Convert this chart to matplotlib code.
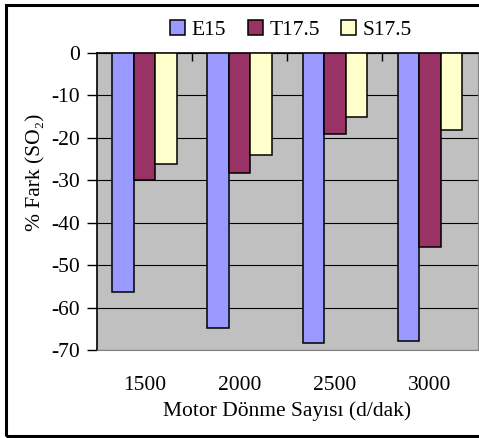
import matplotlib.pyplot as plt
import matplotlib.patches as mpatches
import numpy as np

plt.rcParams['font.family'] = ['Liberation Serif', 'DejaVu Serif']
plt.rcParams['axes.unicode_minus'] = False

hizlar = ['1500', '2000', '2500', '3000']
e15 = [-56.3, -64.7, -68.3, -67.9]
t175 = [-30.0, -28.3, -19.2, -45.8]
s175 = [-26.1, -24.1, -15.0, -18.1]
seriler = ['E15', 'T17.5', 'S17.5']
renkler = ['#9999FF', '#993366', '#FFFFCC']

fig = plt.figure(figsize=(4.79, 4.38), dpi=100)
ax = fig.add_axes([97 / 479, 1 - 350 / 438, 380.5 / 479, 297 / 438])
ax.set_facecolor('#C0C0C0')

x = np.arange(len(hizlar))
w = 0.226
for i, (vals, renk) in enumerate(zip([e15, t175, s175], renkler)):
    ax.bar(x + (i - 1) * w, vals, w, color=renk, edgecolor='black',
           linewidth=1.1, label=seriler[i], zorder=3)

ax.set_xlim(-0.5, 3.5)
ax.set_ylim(-70, 0)
ax.set_yticks(range(-70, 1, 10))
ax.yaxis.grid(True, color='black', linewidth=0.8, zorder=0)
ax.tick_params(axis='y', direction='out', length=7, width=1, labelsize=15.5, pad=5.5)

# x ekseni y=0'da (üstte), kategori sınırlarında iç tik
ax.set_xticks([0.5, 1.5, 2.5])
ax.set_xticklabels([])
ax.tick_params(axis='x', which='major', direction='in', length=6, width=1,
               bottom=False, top=True)
for xi, lab in zip(x, hizlar):
    ax.text(xi, -78.4, lab, ha='center', va='center', fontsize=15.5)
ax.text(1.5, -84.4, 'Motor Dönme Sayısı (d/dak)', ha='center', va='center', fontsize=15.5)

ax.spines['left'].set_color('black')
ax.spines['left'].set_linewidth(1.2)
ax.spines['top'].set_color('black')
ax.spines['top'].set_linewidth(1.2)
ax.spines['bottom'].set_color('#808080')
ax.spines['right'].set_color('#808080')

fig.text(36 / 479, 1 - 172 / 438, '% Fark (SO₂)', rotation=90,
         ha='center', va='center', fontsize=15.5)

ax.legend(loc='center', bbox_to_anchor=(0.51, 1 + 23 / 297), ncol=3, frameon=False,
          fontsize=15.5, handlelength=0.7, handleheight=0.7, handletextpad=0.3,
          columnspacing=1.0, borderpad=0)

fig.patches.append(mpatches.Rectangle((6 / 479, 1 - 435.5 / 438), 490 / 479, 430.5 / 438,
                                      transform=fig.transFigure, fill=False,
                                      edgecolor='black', linewidth=2.2))

fig.savefig('out.png', dpi=100)
